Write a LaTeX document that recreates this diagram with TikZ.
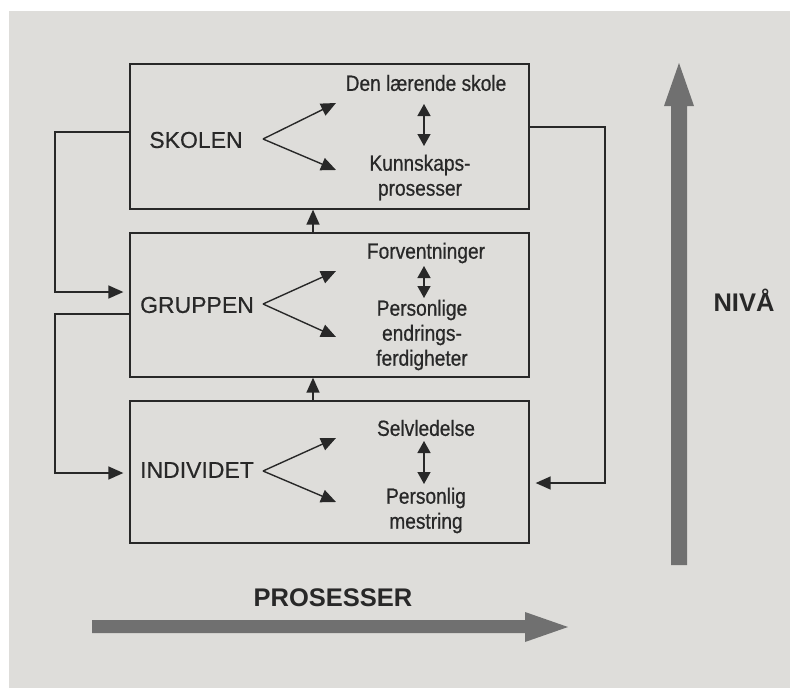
\documentclass[tikz,border=0pt]{standalone}
\usepackage{fontspec}
\setmainfont{Liberation Sans}
\newfontfamily\condfont{Liberation Sans}[FakeStretch=0.87,FakeBold=0.6]
\newfontfamily\lvlfont{Liberation Sans}[FakeBold=0.4]
\usetikzlibrary{arrows.meta}
\definecolor{pagebg}{RGB}{222,221,218}
\definecolor{ink}{RGB}{40,40,40}
\definecolor{bigarrow}{RGB}{112,112,112}
\begin{document}
\begin{tikzpicture}[x=1pt,y=-1pt,
  box/.style={draw=ink, line width=1.3pt, minimum width=399pt, inner sep=0pt},
  lvl/.style={font=\lvlfont\fontsize{23}{27}\selectfont, text=ink, inner sep=0pt},
  itm/.style={font=\condfont\fontsize{22}{25}\selectfont, text=ink, align=center, inner sep=0pt},
  conn/.style={draw=ink, line width=1.4pt},
  arr/.style={-{Triangle[length=15pt,width=13pt]}},
  dblarr/.style={{Triangle[length=12pt,width=13pt]}-{Triangle[length=12pt,width=13pt]}},
  bigtxt/.style={font=\bfseries\fontsize{25.5}{30}\selectfont, text=ink, inner sep=0pt}]
\useasboundingbox (0,0) rectangle (790,688);
\fill[white] (0,0) rectangle (790,688);
\fill[pagebg] (9,11) rectangle (790,688);

% level boxes
\node[box, minimum height=145pt] (b1) at (329.5,136.5) {};
\node[box, minimum height=144pt] (b2) at (329.5,305) {};
\node[box, minimum height=142pt] (b3) at (329.5,472) {};

% level labels
\node[lvl] (skolen) at (196,140) {SKOLEN};
\node[lvl] (gruppen) at (197,305) {GRUPPEN};
\node[lvl] (individet) at (197,470) {INDIVIDET};

% items
\node[itm] (t1a) at (426,83) {Den lærende skole};
\node[itm] (t1b) at (420,177.5) {Kunnskaps-\\prosesser};
\node[itm] (t2a) at (426,253) {Forventninger};
\node[itm] (t2b) at (422,335) {Personlige\\endrings-\\ferdigheter};
\node[itm] (t3a) at (426,428) {Selvledelse};
\node[itm] (t3b) at (426,510.5) {Personlig\\mestring};

% fork arrows
\coordinate (s1) at (263,139); \coordinate (s1a) at (336,103); \coordinate (s1b) at (336,170);
\coordinate (s2) at (263,304); \coordinate (s2a) at (336,271); \coordinate (s2b) at (336,337);
\coordinate (s3) at (263,471); \coordinate (s3a) at (336,438); \coordinate (s3b) at (336,502);
\foreach \i in {1,2,3}{
  \draw[conn, arr] (s\i) -- (s\i a);
  \draw[conn, arr] (s\i) -- (s\i b);
}

% double arrows
\coordinate (d1a) at (424,104); \coordinate (d1b) at (424,146);
\coordinate (d2a) at (424,266); \coordinate (d2b) at (424,298);
\coordinate (d3a) at (424,441); \coordinate (d3b) at (424,484);
\foreach \i in {1,2,3}{
  \draw[conn, dblarr] (d\i a) -- (d\i b);
}

% arrows between boxes
\coordinate (m) at (313,0);
\draw[conn, arr] (b2.north -| m) -- (b1.south -| m);
\draw[conn, arr] (b3.north -| m) -- (b2.south -| m);

% left loops
\coordinate (l1) at (55,132); \coordinate (l2) at (55,292);
\draw[conn, arr, shorten >=6pt] (b1.west |- l1) -- (l1) -- (l2) -- (b2.west |- l2);
\coordinate (l3) at (55,314); \coordinate (l4) at (55,473);
\draw[conn, arr, shorten >=6pt] (b2.west |- l3) -- (l3) -- (l4) -- (b3.west |- l4);

% right loop
\coordinate (r1) at (605,127); \coordinate (r2) at (605,483);
\draw[conn, arr, shorten >=6pt] (b1.east |- r1) -- (r1) -- (r2) -- (b3.east |- r2);

% big arrows
\fill[bigarrow] (671,565) -- (671,106) -- (664,106) -- (679,63) -- (694,106) -- (687,106) -- (687,565) -- cycle;
\fill[bigarrow] (92,620) -- (525,620) -- (525,612) -- (568,627) -- (525,642) -- (525,633) -- (92,633) -- cycle;

\node[bigtxt] (niva) at (744,300) {NIVÅ};
\node[bigtxt] (pros) at (333,598) {PROSESSER};
\end{tikzpicture}
\end{document}
